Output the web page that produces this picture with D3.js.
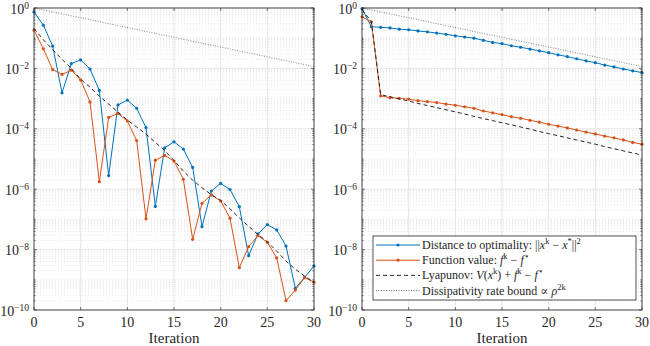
<!DOCTYPE html>
<html>
<head>
<meta charset="utf-8">
<script src="https://cdn.jsdelivr.net/npm/d3@7"></script>
<style>
  body { margin: 0; background: #fff; }
  svg text { font-family: "Liberation Serif", "DejaVu Serif", serif; fill: #262626; }
</style>
</head>
<body>
<div id="chart"></div>
<script>
// iterations on the x axis
var iters = d3.range(0, 31);
var xTicks = [0, 5, 10, 15, 20, 25, 30];
var yTickExp = [0, -2, -4, -6, -8, -10];

// values, stored as log10(value)
var leftDist = [-0.13, -0.57, -1.26, -2.81, -1.84, -1.72, -2.02, -2.73, -5.55, -3.21,
  -3.05, -3.32, -3.96, -6.57, -4.63, -4.43, -4.67, -5.28, -7.24, -6.06,
  -5.81, -6.01, -6.58, -8.20, -7.48, -7.17, -7.35, -7.88, -9.28, -8.92, -8.54];
var leftFun = [-0.73, -1.35, -2.04, -2.20, -2.06, -2.38, -3.11, -5.75, -3.62, -3.49,
  -3.74, -4.39, -6.98, -5.04, -4.88, -5.07, -5.67, -7.66, -6.47, -6.19,
  -6.39, -6.96, -8.60, -7.90, -7.54, -7.76, -8.27, -9.69, -9.34, -8.93, -9.08];
var leftLyap = [-0.68, -1.05, -1.38, -1.70, -2.00, -2.36, -2.62, -2.92, -3.18, -3.45,
  -3.71, -3.94, -4.18, -4.45, -4.72, -5.05, -5.40, -5.70, -5.95, -6.18,
  -6.37, -6.65, -6.95, -7.23, -7.50, -7.74, -8.05, -8.38, -8.65, -8.88, -9.08];

var rightDist = [-0.02, -0.62, -0.64, -0.66, -0.70, -0.72, -0.76, -0.79, -0.83, -0.87,
  -0.92, -0.96, -1.00, -1.07, -1.14, -1.18, -1.25, -1.30, -1.36, -1.42,
  -1.48, -1.55, -1.61, -1.68, -1.75, -1.81, -1.89, -1.95, -2.02, -2.08, -2.14];
var rightFun = [-0.29, -0.46, -2.91, -2.97, -2.99, -3.02, -3.07, -3.10, -3.13, -3.18,
  -3.22, -3.27, -3.32, -3.41, -3.47, -3.53, -3.60, -3.65, -3.72, -3.78,
  -3.85, -3.91, -3.97, -4.04, -4.11, -4.17, -4.24, -4.30, -4.37, -4.45, -4.51];
var rightLyap = [-0.05, -0.45, -2.87, -2.94, -3.01, -3.08, -3.16, -3.23, -3.30, -3.37,
  -3.44, -3.51, -3.59, -3.66, -3.73, -3.80, -3.87, -3.94, -4.01, -4.09,
  -4.16, -4.23, -4.30, -4.37, -4.44, -4.51, -4.59, -4.66, -4.73, -4.80, -4.87];

// dissipativity bound: straight line in log scale (endpoints)
var boundIters = [0, 30];
var boundVals = [0, -1.94];

var blue = "#0072BD", orange = "#D95319";

var W = 650, H = 346;
var svg = d3.select("#chart").append("svg")
    .attr("width", W)
    .attr("height", H);

var yTop = 8, yBot = 310;

function drawPanel(x0, x1, dist, fun, lyap) {
    var g = svg.append("g");
    var x = d3.scaleLinear().domain([0, 30]).range([x0, x1]);
    var y = d3.scaleLog().domain([1e-10, 1]).range([yBot, yTop]);

    // minor grid
    var minors = [];
    for (var e = -10; e < 0; e++) {
        for (var m = 1; m < 10; m++) {
            if (m === 1 && e % 2 === 0) continue;
            minors.push(m * Math.pow(10, e));
        }
    }
    g.selectAll(".minor").data(minors).enter().append("line")
        .attr("x1", x0).attr("x2", x1)
        .attr("y1", d => y(d)).attr("y2", d => y(d))
        .style("stroke", "#d4d4d4")
        .style("stroke-width", 0.6)
        .style("stroke-dasharray", "1,2");

    // major grid
    g.selectAll(".hmaj").data(yTickExp).enter().append("line")
        .attr("x1", x0).attr("x2", x1)
        .attr("y1", d => y(Math.pow(10, d))).attr("y2", d => y(Math.pow(10, d)))
        .style("stroke", "#dedede")
        .style("stroke-width", 0.8);
    g.selectAll(".vmaj").data(xTicks).enter().append("line")
        .attr("x1", d => x(d)).attr("x2", d => x(d))
        .attr("y1", yTop).attr("y2", yBot)
        .style("stroke", "#dedede")
        .style("stroke-width", 0.8);

    var line = d3.line()
        .x(d => x(d[0]))
        .y(d => y(Math.pow(10, d[1])));

    // bound
    g.append("path")
        .attr("d", line(boundIters.map((k, i) => [k, boundVals[i]])))
        .style("fill", "none")
        .style("stroke", "#555")
        .style("stroke-width", 0.7)
        .style("stroke-dasharray", "1,1.5");

    [[dist, blue], [fun, orange]].forEach(function(s) {
        var pts = iters.map((k, i) => [k, s[0][i]]);
        g.append("path")
            .attr("d", line(pts))
            .style("fill", "none")
            .style("stroke", s[1])
            .style("stroke-width", 1);
        g.selectAll(null).data(pts).enter().append("circle")
            .attr("cx", d => x(d[0]))
            .attr("cy", d => y(Math.pow(10, d[1])))
            .attr("r", 1.6)
            .style("fill", s[1]);
    });

    g.append("path")
        .attr("d", line(iters.map((k, i) => [k, lyap[i]])))
        .style("fill", "none")
        .style("stroke", "#111")
        .style("stroke-width", 0.9)
        .style("stroke-dasharray", "4,3");

    // box
    g.append("rect")
        .attr("x", x0).attr("y", yTop)
        .attr("width", x1 - x0).attr("height", yBot - yTop)
        .style("fill", "none")
        .style("stroke", "#262626")
        .style("stroke-width", 0.8);

    // ticks (inward, all four sides)
    xTicks.forEach(function(t) {
        g.append("line").attr("x1", x(t)).attr("x2", x(t)).attr("y1", yBot).attr("y2", yBot - 3)
            .style("stroke", "#262626").style("stroke-width", 0.6);
        g.append("line").attr("x1", x(t)).attr("x2", x(t)).attr("y1", yTop).attr("y2", yTop + 3)
            .style("stroke", "#262626").style("stroke-width", 0.6);
        g.append("text")
            .attr("x", x(t)).attr("y", 327)
            .attr("text-anchor", "middle")
            .attr("font-size", "14px")
            .text(t);
    });
    var allTicks = minors.map(d => [d, 1.6]).concat(yTickExp.map(d => [Math.pow(10, d), 3]));
    allTicks.forEach(function(t) {
        g.append("line").attr("x1", x0).attr("x2", x0 + t[1]).attr("y1", y(t[0])).attr("y2", y(t[0]))
            .style("stroke", "#262626").style("stroke-width", 0.6);
        g.append("line").attr("x1", x1).attr("x2", x1 - t[1]).attr("y1", y(t[0])).attr("y2", y(t[0]))
            .style("stroke", "#262626").style("stroke-width", 0.6);
    });
    yTickExp.forEach(function(e) {
        var lab = svg.append("text")
            .attr("x", x0 - 5)
            .attr("y", y(Math.pow(10, e)) + 5.5)
            .attr("text-anchor", "end")
            .attr("font-size", "14px");
        lab.append("tspan").text("10");
        lab.append("tspan").attr("dy", -5).attr("font-size", "9.5px")
            .text(e === 0 ? "0" : "\u2212" + (-e));
    });

    svg.append("text")
        .attr("x", (x0 + x1) / 2)
        .attr("y", 343)
        .attr("text-anchor", "middle")
        .attr("font-size", "15px")
        .text("Iteration");

    return { x: x, y: y };
}

drawPanel(34, 314, leftDist, leftFun, leftLyap);
drawPanel(362, 642, rightDist, rightFun, rightLyap);

// legend
var legendItems = [
    { color: blue, dash: null, marker: true, parts: [["Distance to optimality:  ||"], ["x", "i"], ["k", "s"], [" \u2212 "], ["x", "i"], ["*", "s"], ["||"], ["2", "s"]] },
    { color: orange, dash: null, marker: true, parts: [["Function value:  "], ["f", "i"], ["k", "s"], [" \u2212 "], ["f", "i"], ["\u22c6", "s"]] },
    { color: "#111", dash: "4,3", marker: false, parts: [["Lyapunov:  "], ["V", "i"], ["("], ["x", "i"], ["k", "s"], [") + "], ["f", "i"], ["k", "s"], [" \u2212 "], ["f", "i"], ["\u22c6", "s"]] },
    { color: "#555", dash: "1,1.5", marker: false, parts: [["Dissipativity rate bound \u221d "], ["\u03c1", "i"], ["2k", "s"]] }
];

var lg = svg.append("g");
lg.append("rect")
    .attr("x", 373).attr("y", 236)
    .attr("width", 263).attr("height", 64)
    .style("fill", "#fff")
    .style("stroke", "#262626")
    .style("stroke-width", 0.8);

legendItems.forEach(function(it, i) {
    var yy = 245 + i * 15.2;
    lg.append("line")
        .attr("x1", 376).attr("x2", 420)
        .attr("y1", yy).attr("y2", yy)
        .style("stroke", it.color)
        .style("stroke-width", it.marker ? 1 : 0.9)
        .style("stroke-dasharray", it.dash);
    if (it.marker) {
        lg.append("circle").attr("cx", 398).attr("cy", yy).attr("r", 1.6).style("fill", it.color);
    }
    var t = lg.append("text")
        .attr("x", 422).attr("y", yy + 4)
        .attr("font-size", "12px");
    var raised = false;
    it.parts.forEach(function(p) {
        var ts = t.append("tspan").text(p[0]);
        if (p[1] === "i") ts.style("font-style", "italic");
        if (p[1] === "s") {
            ts.attr("font-size", "8.5px");
            if (!raised) { ts.attr("dy", -5); raised = true; }
        } else if (raised) {
            ts.attr("dy", 5); raised = false;
        }
    });
});
</script>
</body>
</html>
